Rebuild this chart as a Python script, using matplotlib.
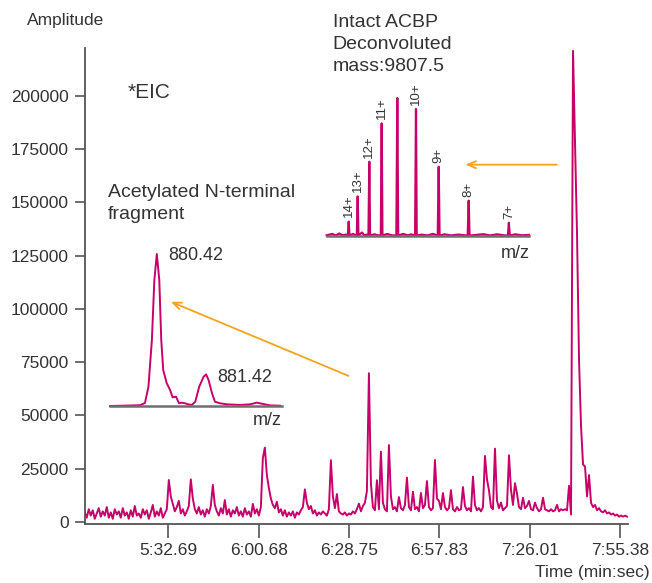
import numpy as np
import matplotlib.pyplot as plt

plt.rcParams['font.family'] = ['Liberation Sans', 'DejaVu Sans']

# EIC trace, amplitude in thousands, scans evenly spaced from 306.3 s to 477.6 s
amp_k = [
    4.5, 2.0, 6.0, 3.0, 5.5, 1.5, 4.0, 6.5, 2.5, 5.0,
    3.0, 7.0, 2.0, 4.5, 1.5, 6.0, 3.5, 5.0, 2.0, 6.5,
    3.0, 4.5, 1.5, 5.5, 2.5, 7.5, 3.0, 4.0, 2.0, 6.0,
    3.5, 5.5, 1.5, 4.5, 8.0, 2.5, 5.0, 3.0, 6.5, 2.0,
    4.0, 6.0, 19.7, 12.0, 8.5, 5.0, 7.0, 9.9, 4.0, 6.0,
    3.0, 5.0, 7.5, 20.0, 11.0, 6.0, 4.0, 7.0, 3.5, 5.5,
    2.5, 6.0, 4.0, 7.5, 17.4, 8.0, 5.0, 3.0, 6.5, 4.0,
    10.3, 3.5, 6.0, 2.5, 5.5, 4.0, 7.0, 3.0, 5.0, 2.5,
    6.5, 3.5, 5.0, 2.5, 8.5, 4.0, 6.0, 3.0, 7.0, 30.0,
    34.9, 22.0, 16.0, 11.0, 8.0, 6.5, 9.5, 4.5, 6.0, 3.0,
    5.5, 2.5, 4.5, 3.0, 5.0, 2.0, 4.5, 3.5, 5.5, 7.0,
    15.3, 9.0, 6.0, 7.5, 4.0, 5.5, 3.0, 4.5, 3.5, 5.0,
    4.0, 3.0, 6.0, 29.0, 12.0, 6.5, 13.1, 5.0, 4.0, 3.5,
    4.5, 3.0, 4.0, 3.5, 5.0, 4.0, 6.0, 8.6, 5.0, 7.5,
    9.0, 14.5, 69.8, 18.0, 7.0, 5.5, 19.6, 6.0, 33.0, 9.0,
    6.0, 5.0, 36.1, 12.0, 6.0, 7.0, 5.0, 11.7, 6.5, 5.5,
    8.0, 20.8, 7.0, 5.5, 14.2, 6.0, 7.0, 5.0, 13.6, 6.5,
    8.0, 19.2, 7.0, 5.5, 6.5, 29.1, 11.0, 9.9, 6.0, 13.6,
    7.0, 5.5, 6.5, 14.9, 6.0, 5.0, 7.0, 5.5, 6.0, 16.4,
    7.5, 5.5, 6.5, 5.0, 21.3, 8.0, 5.5, 6.5, 5.0, 7.0,
    31.0, 20.0, 14.9, 7.0, 6.0, 34.4, 10.0, 6.5, 9.1, 5.5,
    6.5, 7.5, 31.3, 15.0, 8.0, 18.2, 13.3, 7.0, 6.0, 11.4,
    6.5, 7.5, 9.9, 6.0, 5.5, 9.1, 6.5, 5.0, 6.0, 11.4,
    6.0, 5.5, 5.0, 6.0, 5.0, 5.5, 8.0, 5.0, 6.0, 5.5,
    6.0, 5.5, 17.0, 3.5, 221.0, 178.0, 135.0, 76.0, 45.0, 27.0,
    26.0, 12.0, 22.0, 9.0, 7.0, 8.0, 5.5, 6.5, 5.0, 4.5,
    5.5, 4.0, 4.5, 3.5, 4.0, 3.0, 3.5, 2.5, 3.0, 2.5,
    3.0, 2.5,
]
y_ticks = [0, 25000, 50000, 75000, 100000, 125000, 150000, 175000, 200000]
x_tick_labels = ['5:32.69', '6:00.68', '6:28.75', '6:57.83', '7:26.01', '7:55.38']

# inset 1: acetylated N-terminal fragment, m/z vs relative intensity
frag_mz = [879.47, 880.08, 880.18, 880.25, 880.32, 880.37, 880.42, 880.47, 880.51,
           880.55, 880.62, 880.69, 880.74, 880.81, 880.87, 880.93, 880.99, 881.06,
           881.13, 881.20, 881.28, 881.37, 881.42, 881.47, 881.54, 881.60, 881.70,
           881.84, 882.11, 882.31, 882.45, 882.58, 882.72, 882.92]
frag_int = [0.0, 0.5, 2.0, 12.7, 43.4, 82.9, 100.0, 82.9, 43.4,
            23.7, 15.1, 10.5, 5.7, 6.1, 1.8, 2.2, 1.8, 1.1,
            0.7, 2.8, 12.7, 19.3, 20.8, 17.1, 8.4, 2.8, 1.8,
            1.1, 0.7, 1.1, 2.2, 1.3, 0.4, 0.2]

# inset 2: intact ACBP charge-state envelope
acbp_mz = [605, 630, 645, 660, 675, 690, 698, 701.5, 705, 720, 732, 737, 740.9, 744,
           760, 770, 780, 788, 791.6, 795, 815, 830, 842, 845.9, 849, 870, 890, 910,
           914.1, 918, 940, 960, 975, 992, 995.9, 999, 1020, 1045, 1070, 1091, 1095.2,
           1099, 1120, 1150, 1180, 1222, 1226.4, 1230, 1260, 1290, 1320, 1350, 1380,
           1398, 1402.1, 1406, 1430, 1460, 1490]
acbp_int = [0.5, 1.5, 0.3, 1.8, 0.5, 1.0, 0.3, 10.4, 0.3, 1.5, 0.5, 0.5, 28.7, 0.5,
            2.5, 0.5, 1.0, 0.5, 53.8, 0.5, 1.2, 0.5, 0.3, 81.6, 0.3, 1.5, 0.5, 0.3,
            100.0, 0.3, 1.5, 0.4, 1.2, 0.3, 92.0, 0.3, 1.0, 0.4, 1.5, 0.3, 50.2,
            0.3, 1.2, 0.4, 1.0, 0.3, 25.6, 0.3, 0.8, 1.3, 0.4, 1.2, 0.5,
            0.3, 9.6, 0.3, 1.2, 0.5, 0.8]
charge_mz = [701.5, 740.9, 791.6, 845.9, 995.9, 1095.2, 1226.4, 1402.1]
charge_int = [10.4, 28.7, 53.8, 81.6, 92.0, 50.2, 25.6, 9.6]
charge_labels = ['14+', '13+', '12+', '11+', '10+', '9+', '8+', '7+']

MAG = '#C8006A'
ORANGE = '#F5A31A'
TXT = '#333333'
AX = '#555555'

W, H = 652, 583
fig = plt.figure(figsize=(W / 100, H / 100), dpi=100)
ax = fig.add_axes([84.7 / W, 1 - 524 / H, (628 - 84.7) / W, (524 - 48.3) / H])

amplitude = np.array(amp_k) * 1000
scan_time = np.linspace(306.3, 477.6, len(amplitude))
ax.plot(scan_time, amplitude, color=MAG, lw=1.4)

ax.set_xlim(306.28, 477.9)
ax.set_ylim(-940, 222200)
ax.set_yticks(y_ticks)
ax.set_yticklabels([str(v) for v in y_ticks])
ax.set_xticks(np.linspace(332.69, 475.38, len(x_tick_labels)))
ax.set_xticklabels(x_tick_labels)
for s in ['top', 'right']:
    ax.spines[s].set_visible(False)
for s in ['left', 'bottom']:
    ax.spines[s].set_color(AX)
    ax.spines[s].set_linewidth(1.3)
ax.tick_params(axis='y', length=7.5, width=1.2, color=AX, pad=4, labelsize=12.5, labelcolor=TXT)
ax.tick_params(axis='x', length=10, width=1.2, color=AX, pad=4, labelsize=12.5, labelcolor=TXT)

fig.text(26.7 / W, 1 - 20 / H, 'Amplitude', fontsize=12.5, color=TXT, va='center')
fig.text(650 / W, 1 - 573 / H, 'Time (min:sec)', fontsize=12.5, color=TXT, va='center', ha='right')
fig.text(128 / W, 1 - 92 / H, '*EIC', fontsize=15, color=TXT, va='center')
fig.text(108 / W, 1 - 184 / H, 'Acetylated N-terminal\nfragment', fontsize=14,
         color=TXT, va='top', linespacing=1.4)
fig.text(332.7 / W, 1 - 14 / H, 'Intact ACBP\nDeconvoluted\nmass:9807.5', fontsize=14,
         color=TXT, va='top', linespacing=1.4)

# arrows from chromatogram peaks to the spectra
ax.annotate('', xy=(426.5, 167600), xytext=(455.4, 167600),
            arrowprops=dict(arrowstyle='->,head_length=0.6,head_width=0.25',
                            color=ORANGE, lw=1.3, shrinkA=0, shrinkB=0))
ax.annotate('', xy=(333.5, 103300), xytext=(389.6, 68550),
            arrowprops=dict(arrowstyle='->,head_length=0.6,head_width=0.25',
                            color=ORANGE, lw=1.3, shrinkA=0, shrinkB=0))


def inset(rect, xlim):
    a = fig.add_axes(rect)
    a.patch.set_alpha(0)
    a.set_xlim(*xlim)
    a.set_ylim(0, 100)
    for s in ['top', 'right', 'left']:
        a.spines[s].set_visible(False)
    a.spines['bottom'].set_color('#6f6f6f')
    a.spines['bottom'].set_linewidth(1.8)
    a.set_xticks([])
    a.set_yticks([])
    return a


ax1 = inset([110 / W, (H - 406) / H, 172 / W, 152 / H], (879.47, 882.96))
ax1.plot(frag_mz, frag_int, color=MAG, lw=1.4, clip_on=False)
ax1.text(880.65, 99, '880.42', fontsize=13, color=TXT, va='center')
ax1.text(881.64, 19, '881.42', fontsize=13, color=TXT, va='center')
ax1.text(882.96, -9.5, 'm/z', fontsize=13, color=TXT, va='center', ha='right')

ax2 = inset([326.7 / W, (H - 236) / H, (529.3 - 326.7) / W, 138 / H], (605.3, 1491.5))
ax2.plot(acbp_mz, acbp_int, color=MAG, lw=1.6, clip_on=False)
for mz, h, lab in zip(charge_mz, charge_int, charge_labels):
    ax2.annotate(lab, (mz, h), xytext=(0, 3), textcoords='offset points',
                 rotation=90, ha='center', va='bottom', fontsize=9.5, color=TXT)
ax2.text(1491.5, -12.5, 'm/z', fontsize=13, color=TXT, va='center', ha='right')

fig.savefig('out.png', dpi=100)
